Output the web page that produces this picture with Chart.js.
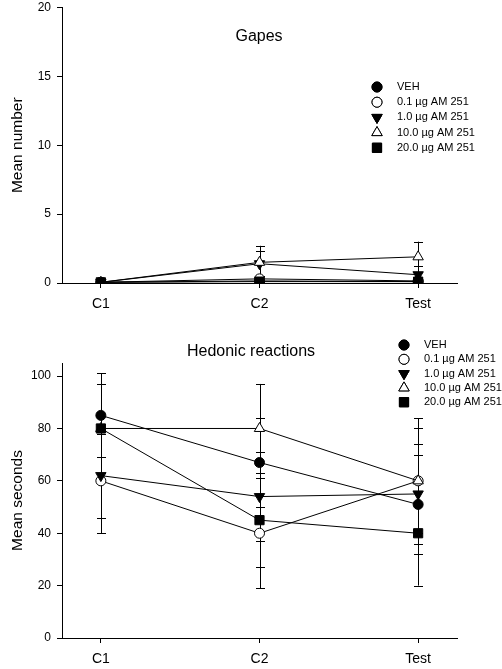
<!DOCTYPE html>
<html>
<head>
<meta charset="utf-8">
<script src="https://cdn.jsdelivr.net/npm/chart.js@4.4.1/dist/chart.umd.min.js"></script>
<style>
  body { margin: 0; background: #fff; }
  .box { position: absolute; left: 0; width: 502px; }
  #top { top: 0; height: 320px; }
  #bottom { top: 320px; height: 349px; }
</style>
</head>
<body>
<div class="box" id="top"><canvas id="gapes" width="502" height="320"></canvas></div>
<div class="box" id="bottom"><canvas id="hedonic" width="502" height="349"></canvas></div>
<script>
const categories = ['C1', 'C2', 'Test']
const groups = ['VEH', '0.1 µg AM 251', '1.0 µg AM 251', '10.0 µg AM 251', '20.0 µg AM 251']

// gapes (mean number)
const gapesVeh = [0.05, 0.15, 0.1]
const gapes01 = [0.05, 0.3, 0.15]
const gapes1 = [0.05, 1.4, 0.6]
const gapes10 = [0.05, 1.5, 1.9]
const gapes20 = [0.05, 0.1, 0.1]
const gapesErrVeh = [0.05, 0.1, 0.1]
const gapesErr01 = [0.05, 0.2, 0.1]
const gapesErr1 = [0.05, 0.9, 0.6]
const gapesErr10 = [0.05, 1.2, 1.1]
const gapesErr20 = [0.05, 0.1, 0.1]
const gapesTicks = [0, 5, 10, 15, 20]

// hedonic reactions (mean seconds)
const hedVeh = [85, 67, 51]
const hed01 = [60, 40, 60]
const hed1 = [62, 54, 55]
const hed10 = [80, 80, 60]
const hed20 = [80, 45, 40]
const hedErrVeh = [16, 17, 19]
const hedErr01 = [20, 21, 20]
const hedErr1 = [16, 17, 19]
const hedErr10 = [17, 17, 24]
const hedErr20 = [17, 18, 20]
const hedTicks = [0, 20, 40, 60, 80, 100]

const FONT = "'Liberation Sans', Arial, sans-serif"

const markers = [
    { pointStyle: 'circle', radius: 5, fill: '#000', rotation: 0 },
    { pointStyle: 'circle', radius: 5, fill: '#fff', rotation: 0 },
    { pointStyle: 'triangle', radius: 6, fill: '#000', rotation: 180 },
    { pointStyle: 'triangle', radius: 6, fill: '#fff', rotation: 0 },
    { pointStyle: 'rect', radius: 6.5, fill: '#000', rotation: 0 }
]

function makeDatasets(series, errs) {
    return series.map((vals, k) => ({
        label: groups[k],
        data: vals.map((v, i) => ({ x: i, y: v })),
        errors: errs[k],
        order: series.length - k, // later groups sit on top
        borderColor: '#000',
        borderWidth: 1,
        tension: 0,
        pointStyle: markers[k].pointStyle,
        pointRotation: markers[k].rotation,
        pointRadius: markers[k].radius,
        pointHoverRadius: markers[k].radius,
        pointBackgroundColor: markers[k].fill,
        pointBorderColor: '#000',
        pointBorderWidth: 1
    }))
}

const errorBars = {
    id: 'errorBars',
    beforeDatasetsDraw(chart) {
        const c = chart.ctx
        const xs = chart.scales.x, ys = chart.scales.y
        c.save()
        c.strokeStyle = '#000'
        c.lineWidth = 1
        chart.data.datasets.forEach(ds => {
            ds.data.forEach((p, i) => {
                const e = ds.errors[i]
                const x = Math.round(xs.getPixelForValue(p.x)) + 0.5
                const y1 = ys.getPixelForValue(p.y + e)
                const y2 = ys.getPixelForValue(Math.max(0, p.y - e))
                c.beginPath()
                c.moveTo(x, y1); c.lineTo(x, y2)
                c.moveTo(x - 4.5, Math.round(y1) + 0.5); c.lineTo(x + 4.5, Math.round(y1) + 0.5)
                c.moveTo(x - 4.5, Math.round(y2) + 0.5); c.lineTo(x + 4.5, Math.round(y2) + 0.5)
                c.stroke()
            })
        })
        c.restore()
    }
}

function drawMarker(c, m, x, y) {
    c.fillStyle = m.fill
    c.strokeStyle = '#000'
    c.lineWidth = 1
    if (Chart.helpers && Chart.helpers.drawPoint) {
        Chart.helpers.drawPoint(c, { pointStyle: m.pointStyle, radius: m.radius, rotation: m.rotation, borderWidth: 1 }, x, y)
        c.fill(); c.stroke()
        return
    }
    c.beginPath()
    c.arc(x, y, m.radius, 0, Math.PI * 2)
    c.fill(); c.stroke()
}

// title + inner legend
const decor = {
    id: 'decor',
    afterDraw(chart) {
        const o = chart.options.plugins.decor
        const c = chart.ctx
        c.save()
        c.fillStyle = '#000'
        c.font = '16px ' + FONT
        c.textAlign = 'center'
        c.textBaseline = 'middle'
        c.fillText(o.title, o.titleX, o.titleY)
        c.font = '11px ' + FONT
        c.textAlign = 'left'
        groups.forEach((g, k) => {
            const y = o.legY + k * o.legGap
            drawMarker(c, markers[k], o.legX, y)
            c.fillStyle = '#000'
            c.fillText(g, o.legX + 20, y)
        })
        c.restore()
    }
}

function makeChart(id, datasets, yMax, yTicks, yTitle, padTop, xHeight, decorOpts) {
    return new Chart(document.getElementById(id), {
        type: 'line',
        data: { datasets },
        plugins: [errorBars, decor],
        options: {
            responsive: false,
            animation: false,
            layout: { padding: { top: padTop, right: 45, left: 0, bottom: 0 } },
            plugins: { legend: { display: false }, tooltip: { enabled: false }, decor: decorOpts },
            scales: {
                x: {
                    type: 'linear',
                    min: -0.245,
                    max: 2.245,
                    afterBuildTicks: s => { s.ticks = categories.map((_, i) => ({ value: i })) },
                    afterFit: s => { s.height = xHeight; s.paddingLeft = 0; s.paddingRight = 0 },
                    ticks: {
                        callback: v => categories[v],
                        color: '#000',
                        font: { family: FONT, size: 14 },
                        padding: 8,
                        maxRotation: 0
                    },
                    grid: { drawOnChartArea: false, color: '#000', tickLength: 5 },
                    border: { color: '#000', width: 1 }
                },
                y: {
                    min: 0,
                    max: yMax,
                    afterBuildTicks: s => { s.ticks = yTicks.map(v => ({ value: v })) },
                    afterFit: s => { s.width = 62; s.paddingTop = 0; s.paddingBottom = 0 },
                    ticks: { color: '#000', font: { family: FONT, size: 12 }, padding: 6 },
                    grid: { drawOnChartArea: false, color: '#000', tickLength: 5 },
                    border: { color: '#000', width: 1 },
                    title: {
                        display: true,
                        text: yTitle,
                        color: '#000',
                        font: { family: FONT, size: 15.5 },
                        padding: { top: 8, bottom: 0 }
                    }
                }
            }
        }
    })
}

makeChart('gapes',
    makeDatasets([gapesVeh, gapes01, gapes1, gapes10, gapes20],
                 [gapesErrVeh, gapesErr01, gapesErr1, gapesErr10, gapesErr20]),
    20, gapesTicks, 'Mean number', 7, 37,
    { title: 'Gapes', titleX: 259, titleY: 37, legX: 377, legY: 87, legGap: 15.2 })

makeChart('hedonic',
    makeDatasets([hedVeh, hed01, hed1, hed10, hed20],
                 [hedErrVeh, hedErr01, hedErr1, hedErr10, hedErr20]),
    105, hedTicks, 'Mean seconds', 43, 31,
    { title: 'Hedonic reactions', titleX: 251, titleY: 32, legX: 404, legY: 25, legGap: 14.3 })
</script>
</body>
</html>
